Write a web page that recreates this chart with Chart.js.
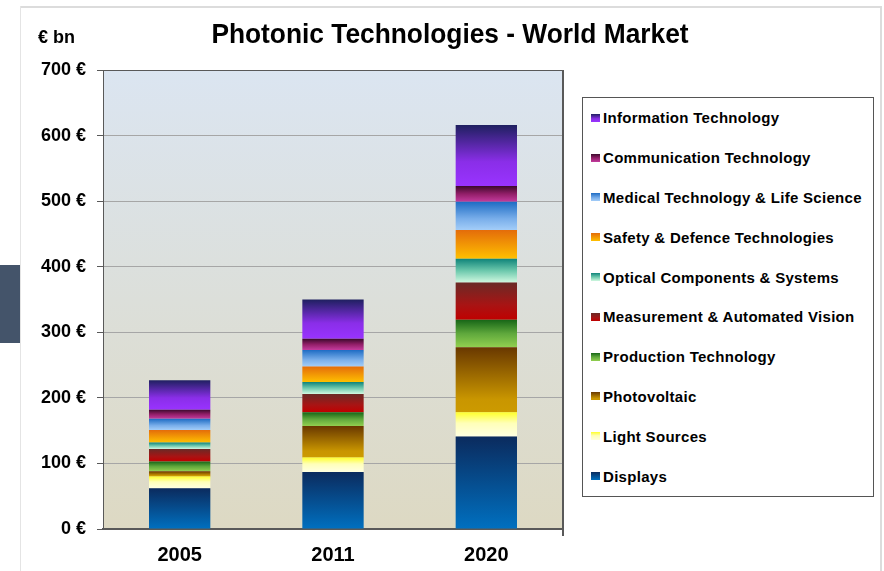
<!DOCTYPE html>
<html>
<head>
<meta charset="utf-8">
<script src="https://cdn.jsdelivr.net/npm/chart.js@4"></script>
<style>
  body { margin: 0; background: #fff; font-family: 'Liberation Sans', Arial, sans-serif; }
  #wrap { position: relative; width: 884px; height: 571px; overflow: hidden; }
  #myChart { position: absolute; left: 0; top: 0; }
  .frameTop { position: absolute; left: 20px; top: 6px; width: 862px; height: 2px; background: #dcdcdc; }
  .frameLeft { position: absolute; left: 20px; top: 6px; width: 1px; height: 570px; background: #e4e4e4; }
  .frameRight { position: absolute; left: 880px; top: 6px; width: 2px; height: 570px; background: #dcdcdc; }
  .tab { position: absolute; left: 0; top: 265px; width: 20px; height: 78px; background: #44546a; }
  #title { position: absolute; left: 0; width: 900px; top: 20px; line-height: 28px; text-align: center; font-size: 28px; font-weight: bold; color: #000; transform: scaleX(0.94); transform-origin: 450px 0; }
  #unit { position: absolute; left: 38px; top: 28px; line-height: 18px; font-size: 18px; font-weight: bold; color: #000; }
  #legend { position: absolute; left: 582px; top: 97px; width: 292px; height: 400px; box-sizing: border-box; border: 1px solid #555; background: #fff; }
  .row { display: flex; align-items: center; height: 39.8px; padding-left: 8px; }
  .sw { width: 9px; height: 8px; margin-right: 3px; }
  .lbl { font-size: 15px; font-weight: bold; letter-spacing: 0.3px; color: #000; white-space: nowrap; }
</style>
</head>
<body>
<div id="wrap">
  <div class="frameTop"></div>
  <div class="frameLeft"></div>
  <div class="frameRight"></div>
  <div class="tab"></div>
  <canvas id="myChart" width="884" height="571"></canvas>
  <div id="title">Photonic Technologies - World Market</div>
  <div id="unit">€ bn</div>
  <div id="legend"></div>
</div>
<script>
var years = ['2005', '2011', '2020'];
var yTicks = [0, 100, 200, 300, 400, 500, 600, 700];

var displays      = [62, 87, 141];
var lightSources  = [18, 22, 37];
var photovoltaic  = [8, 48, 99];
var production    = [15, 21, 42];
var measurement   = [19, 28, 57];
var optical       = [10, 18, 36];
var safety        = [19, 24, 44];
var medical       = [17, 25, 43];
var communication = [14, 17, 24];
var information   = [45, 60, 93];

var seriesNames = ['Displays', 'Light Sources', 'Photovoltaic', 'Production Technology',
  'Measurement & Automated Vision', 'Optical Components & Systems', 'Safety & Defence Technologies',
  'Medical Technology & Life Science', 'Communication Technology', 'Information Technology'];
var seriesValues = [displays, lightSources, photovoltaic, production, measurement,
  optical, safety, medical, communication, information];

// gradient stops per series, top of segment -> bottom of segment
var shades = [
  [[0, '#0b2b5e'], [1, '#0070c0']],
  [[0, '#ffff2a'], [0.45, '#ffffb8'], [1, '#ffffe2']],
  [[0, '#693800'], [0.8, '#c99600'], [1, '#cc9a00']],
  [[0, '#176617'], [0.5, '#5fa83c'], [1, '#92d050']],
  [[0, '#6a2a26'], [0.6, '#a81414'], [1, '#c00000']],
  [[0, '#10847a'], [0.5, '#6cc8ac'], [1, '#d0f8e0']],
  [[0, '#e46c0a'], [1, '#ffc000']],
  [[0, '#1e6cc4'], [0.6, '#79aeea'], [1, '#a3cdf8']],
  [[0, '#3c0a2c'], [0.5, '#921e68'], [1, '#c43c9e']],
  [[0, '#1f2060'], [0.6, '#8a2ee8'], [1, '#9933ff']]
];

var fontFam = "'Liberation Sans', Arial, sans-serif";

function segmentFill(c) {
  var chart = c.chart;
  var s = shades[c.datasetIndex];
  if (!chart.chartArea || c.dataIndex === undefined) return s[s.length - 1][1];
  var y = chart.scales.y;
  var base = 0;
  for (var k = 0; k < c.datasetIndex; k++) base += seriesValues[k][c.dataIndex];
  var top = y.getPixelForValue(base + seriesValues[c.datasetIndex][c.dataIndex]);
  var bottom = y.getPixelForValue(base);
  var g = chart.ctx.createLinearGradient(0, top, 0, bottom);
  s.forEach(function (st) { g.addColorStop(st[0], st[1]); });
  return g;
}

var plotBack = {
  id: 'plotBack',
  beforeDraw: function (chart) {
    var a = chart.chartArea, ctx = chart.ctx;
    var g = ctx.createLinearGradient(0, a.top, 0, a.bottom);
    g.addColorStop(0, '#dbe5f1');
    g.addColorStop(1, '#ddd9c3');
    ctx.save();
    ctx.fillStyle = g;
    ctx.fillRect(a.left, a.top, a.right - a.left, a.bottom - a.top);
    ctx.restore();
  },
  afterDraw: function (chart) {
    var a = chart.chartArea, ctx = chart.ctx;
    ctx.save();
    ctx.strokeStyle = '#595959';
    ctx.lineWidth = 2;
    ctx.beginPath();
    ctx.moveTo(a.right, a.top);
    ctx.lineTo(a.right, a.bottom + 7);
    ctx.stroke();
    ctx.restore();
  }
};

var datasets = seriesNames.map(function (name, i) {
  return {
    label: name,
    data: seriesValues[i],
    backgroundColor: segmentFill,
    borderWidth: 0,
    barPercentage: 0.4,
    categoryPercentage: 1
  };
});

var ctx = document.getElementById('myChart').getContext('2d');
var chart = new Chart(ctx, {
  type: 'bar',
  data: { labels: years, datasets: datasets },
  options: {
    responsive: false,
    animation: false,
    layout: { padding: { left: 0, top: 70, right: 321, bottom: 0 } },
    plugins: { legend: { display: false }, title: { display: false }, tooltip: { enabled: false } },
    scales: {
      x: {
        stacked: true,
        grid: { display: false, drawTicks: false },
        border: { color: '#595959', width: 2 },
        ticks: { color: '#000', padding: 14, font: { family: fontFam, size: 20, weight: 'bold' } },
        afterFit: function (s) { s.height = 42; }
      },
      y: {
        stacked: true,
        min: yTicks[0],
        max: yTicks[yTicks.length - 1],
        afterBuildTicks: function (s) { s.ticks = yTicks.map(function (v) { return { value: v }; }); },
        ticks: {
          color: '#000', padding: 11,
          font: { family: fontFam, size: 18, weight: 'bold' },
          callback: function (v) { return v + ' €'; }
        },
        grid: {
          color: function (c) { return c.tick && c.tick.value === 700 ? '#595959' : '#a6a6a6'; },
          tickColor: '#595959',
          tickLength: 6
        },
        border: { color: '#595959', width: 1 },
        afterFit: function (s) { s.width = 103; }
      }
    }
  },
  plugins: [plotBack]
});

// legend, top entry = top segment
var legend = document.getElementById('legend');
for (var i = seriesNames.length - 1; i >= 0; i--) {
  var row = document.createElement('div');
  row.className = 'row';
  var sw = document.createElement('div');
  sw.className = 'sw';
  sw.style.background = 'linear-gradient(' + shades[i].map(function (st) {
    return st[1] + ' ' + (st[0] * 100) + '%';
  }).join(', ') + ')';
  var lbl = document.createElement('span');
  lbl.className = 'lbl';
  lbl.textContent = seriesNames[i];
  row.appendChild(sw);
  row.appendChild(lbl);
  legend.appendChild(row);
}
</script>
</body>
</html>
